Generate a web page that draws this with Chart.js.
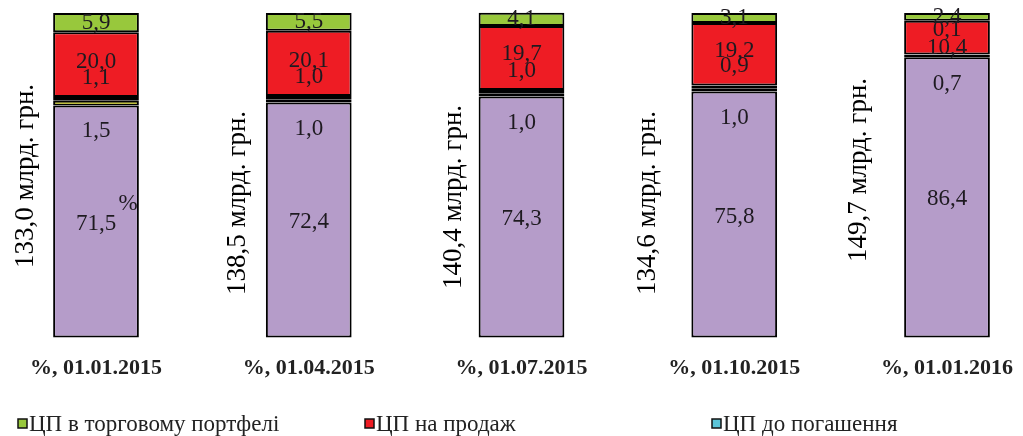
<!DOCTYPE html>
<html>
<head>
<meta charset="utf-8">
<script src="https://cdn.jsdelivr.net/npm/chart.js@4.4.0/dist/chart.umd.min.js"></script>
<style>
  html, body { margin: 0; padding: 0; background: #fff; }
  #wrap { width: 1023px; height: 436px; }
</style>
</head>
<body>
<div id="wrap"><canvas id="chart"></canvas></div>
<script>
// categories and values (% of total securities portfolio)
const dates = ["%, 01.01.2015", "%, 01.04.2015", "%, 01.07.2015", "%, 01.10.2015", "%, 01.01.2016"];
const totals = [133.0, 138.5, 140.4, 134.6, 149.7]; // млрд. грн.

const lilacShare = [71.5, 72.4, 74.3, 75.8, 86.4];
const yellowShare = [1.5, 1.0, 1.0, 1.0, 0.7];
const maturityShare = [1.1, 1.0, 1.0, 0.9, 0.1];
const saleShare = [20.0, 20.1, 19.7, 19.2, 10.4];
const tradingShare = [5.9, 5.5, 4.1, 3.1, 2.4];

const legendNames = ["ЦП в торговому портфелі", "ЦП на продаж", "ЦП до погашення"];

// where the rotated total labels sit: [dx from bar left, y centre from plot top]
const totalPos = [[-27, 163], [-28, 190], [-25, 184], [-43, 190], [-45, 157]];

const serif = "'Liberation Serif', 'Times New Roman', serif";
const fmt = v => v.toFixed(1).replace(".", ",");

const segLabels = {
  id: "segLabels",
  afterDatasetsDraw(chart) {
    const ctx = chart.ctx;
    ctx.save();
    ctx.font = "23px " + serif;
    ctx.fillStyle = "#1e1a20";
    ctx.textAlign = "center";
    ctx.textBaseline = "middle";
    chart.data.datasets.forEach((ds, di) => {
      chart.getDatasetMeta(di).data.forEach((bar, i) => {
        const mid = (bar.y + bar.base) / 2;
        const shift = Array.isArray(ds.labelShift) ? ds.labelShift[i] : ds.labelShift;
        ctx.fillText(fmt(ds.data[i]), bar.x, mid + shift);
      });
    });
    // stray percent sign next to the first bar's main label
    const first = chart.getDatasetMeta(0).data[0];
    ctx.fillText("%", first.x + 32, (first.y + first.base) / 2 - 18);

    // rotated totals
    ctx.font = "27px " + serif;
    ctx.fillStyle = "#000";
    chart.getDatasetMeta(0).data.forEach((bar, i) => {
      const left = bar.x - bar.width / 2;
      ctx.save();
      ctx.translate(left + totalPos[i][0], chart.chartArea.top + totalPos[i][1]);
      ctx.rotate(-Math.PI / 2);
      ctx.fillText(fmt(totals[i]) + " млрд. грн.", 0, 0);
      ctx.restore();
    });
    ctx.restore();
  }
};

const bottomLegend = {
  id: "bottomLegend",
  afterDraw(chart) {
    const ctx = chart.ctx;
    ctx.save();
    ctx.font = "23px " + serif;
    ctx.textBaseline = "alphabetic";
    ctx.textAlign = "left";
    const shown = chart.data.datasets
      .filter(d => d.legendOrder !== undefined)
      .sort((a, b) => a.legendOrder - b.legendOrder);
    shown.forEach((ds, k) => {
      const x = 18 + k * 347;
      ctx.fillStyle = ds.backgroundColor;
      ctx.fillRect(x, 419, 9, 9);
      ctx.lineWidth = 1.5;
      ctx.strokeStyle = "#111";
      ctx.strokeRect(x, 419, 9, 9);
      ctx.fillStyle = "#222";
      ctx.fillText(ds.label, x + 11, 431);
    });
    ctx.restore();
  }
};

const border = { borderColor: "#000", borderWidth: 2, borderSkipped: false, clip: false };

new Chart(document.getElementById("chart"), {
  type: "bar",
  data: {
    labels: dates,
    datasets: [
      { label: "", data: lilacShare, backgroundColor: "#b59cc9", labelShift: 2, ...border },
      { label: "", data: yellowShare, backgroundColor: "#ffff00", labelShift: 28, ...border },
      { label: legendNames[2], data: maturityShare, backgroundColor: "#5bc4d8", labelShift: [-21, -21, -21, -21, -25], legendOrder: 2, ...border },
      { label: legendNames[1], data: saleShare, backgroundColor: "#ee1c24", labelShift: [-3, -3, -4, -3, 10], legendOrder: 1, ...border },
      { label: legendNames[0], data: tradingShare, backgroundColor: "#98c83c", labelShift: 0, legendOrder: 0, ...border }
    ]
  },
  options: {
    responsive: true,
    maintainAspectRatio: false,
    animation: false,
    layout: { padding: { left: 96, right: 73, top: 13, bottom: 44 } },
    categoryPercentage: 0.403,
    barPercentage: 1,
    plugins: {
      legend: { display: false },
      tooltip: { enabled: false }
    },
    scales: {
      x: {
        stacked: true,
        offset: false,
        grid: { display: false },
        border: { display: false },
        ticks: {
          color: "#222",
          padding: 10,
          maxRotation: 0,
          autoSkip: false,
          font: { family: serif, size: 22, weight: "bold" }
        }
      },
      y: {
        stacked: true,
        display: false,
        min: 0,
        max: 100
      }
    }
  },
  plugins: [segLabels, bottomLegend]
});
</script>
</body>
</html>
